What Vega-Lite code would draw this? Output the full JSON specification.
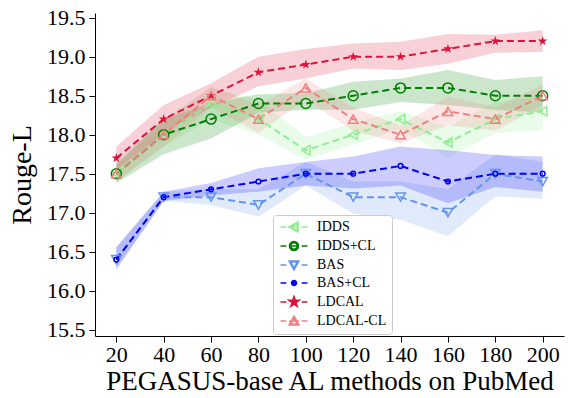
{
  "$schema": "https://vega.github.io/schema/vega-lite/v6.json",
  "width": 469,
  "height": 323,
  "autosize": {"type": "none"},
  "padding": {"left": 95, "top": 13, "right": 10, "bottom": 62},
  "background": "white",
  "config": {
    "view": {"stroke": null},
    "font": "Liberation Serif",
    "axis": {
      "grid": false,
      "domainColor": "black",
      "domainWidth": 1,
      "tickColor": "black",
      "tickSize": 6,
      "tickWidth": 1,
      "labelColor": "black",
      "titleColor": "black",
      "titleFontWeight": "normal",
      "labelFont": "Liberation Serif",
      "titleFont": "Liberation Serif",
      "labelFlush": false,
      "labelOverlap": false
    },
    "legend": {
      "labelFont": "Liberation Serif",
      "labelFontSize": 14,
      "labelColor": "black",
      "symbolSize": 81,
      "symbolStrokeWidth": 1.5,
      "symbolOffset": 9,
      "labelOffset": 16,
      "rowPadding": 3,
      "padding": 5
    }
  },
  "data": {"values": [
    {"x": 20, "method": "IDDS", "v": 17.5, "lo": 17.4, "hi": 17.65},
    {"x": 40, "method": "IDDS", "v": 18.0, "lo": 17.85, "hi": 18.2},
    {"x": 60, "method": "IDDS", "v": 18.4, "lo": 18.2, "hi": 18.6},
    {"x": 80, "method": "IDDS", "v": 18.2, "lo": 18.0, "hi": 18.45},
    {"x": 100, "method": "IDDS", "v": 17.8, "lo": 17.68, "hi": 17.97},
    {"x": 120, "method": "IDDS", "v": 18.0, "lo": 17.87, "hi": 18.15},
    {"x": 140, "method": "IDDS", "v": 18.2, "lo": 18.08, "hi": 18.3},
    {"x": 160, "method": "IDDS", "v": 17.9, "lo": 17.7, "hi": 18.1},
    {"x": 180, "method": "IDDS", "v": 18.2, "lo": 18.02, "hi": 18.42},
    {"x": 200, "method": "IDDS", "v": 18.3, "lo": 18.06, "hi": 18.49},
    {"x": 20, "method": "IDDS+CL", "v": 17.5, "lo": 17.38, "hi": 17.62},
    {"x": 40, "method": "IDDS+CL", "v": 18.0, "lo": 17.75, "hi": 18.2},
    {"x": 60, "method": "IDDS+CL", "v": 18.2, "lo": 17.95, "hi": 18.4},
    {"x": 80, "method": "IDDS+CL", "v": 18.4, "lo": 18.28, "hi": 18.52},
    {"x": 100, "method": "IDDS+CL", "v": 18.4, "lo": 18.32, "hi": 18.53},
    {"x": 120, "method": "IDDS+CL", "v": 18.5, "lo": 18.32, "hi": 18.68},
    {"x": 140, "method": "IDDS+CL", "v": 18.6, "lo": 18.42, "hi": 18.72},
    {"x": 160, "method": "IDDS+CL", "v": 18.6, "lo": 18.38, "hi": 18.83},
    {"x": 180, "method": "IDDS+CL", "v": 18.5, "lo": 18.32, "hi": 18.7},
    {"x": 200, "method": "IDDS+CL", "v": 18.5, "lo": 18.28, "hi": 18.75},
    {"x": 20, "method": "BAS", "v": 16.4, "lo": 16.3, "hi": 16.55},
    {"x": 40, "method": "BAS", "v": 17.2, "lo": 17.15, "hi": 17.27},
    {"x": 60, "method": "BAS", "v": 17.2, "lo": 17.1, "hi": 17.3},
    {"x": 80, "method": "BAS", "v": 17.1, "lo": 16.95, "hi": 17.3},
    {"x": 100, "method": "BAS", "v": 17.5, "lo": 17.35, "hi": 17.65},
    {"x": 120, "method": "BAS", "v": 17.2, "lo": 16.99, "hi": 17.4},
    {"x": 140, "method": "BAS", "v": 17.2, "lo": 16.91, "hi": 17.4},
    {"x": 160, "method": "BAS", "v": 17.0, "lo": 16.7, "hi": 17.3},
    {"x": 180, "method": "BAS", "v": 17.5, "lo": 17.21, "hi": 17.75},
    {"x": 200, "method": "BAS", "v": 17.4, "lo": 17.18, "hi": 17.65},
    {"x": 20, "method": "BAS+CL", "v": 16.4, "lo": 16.27, "hi": 16.56},
    {"x": 40, "method": "BAS+CL", "v": 17.2, "lo": 17.15, "hi": 17.27},
    {"x": 60, "method": "BAS+CL", "v": 17.3, "lo": 17.22, "hi": 17.38},
    {"x": 80, "method": "BAS+CL", "v": 17.4, "lo": 17.27, "hi": 17.57},
    {"x": 100, "method": "BAS+CL", "v": 17.5, "lo": 17.35, "hi": 17.65},
    {"x": 120, "method": "BAS+CL", "v": 17.5, "lo": 17.31, "hi": 17.72},
    {"x": 140, "method": "BAS+CL", "v": 17.6, "lo": 17.35, "hi": 17.85},
    {"x": 160, "method": "BAS+CL", "v": 17.4, "lo": 17.12, "hi": 17.8},
    {"x": 180, "method": "BAS+CL", "v": 17.5, "lo": 17.33, "hi": 17.74},
    {"x": 200, "method": "BAS+CL", "v": 17.5, "lo": 17.27, "hi": 17.72},
    {"x": 20, "method": "LDCAL", "v": 17.7, "lo": 17.55, "hi": 17.85},
    {"x": 40, "method": "LDCAL", "v": 18.2, "lo": 18.02, "hi": 18.38},
    {"x": 60, "method": "LDCAL", "v": 18.5, "lo": 18.35, "hi": 18.66},
    {"x": 80, "method": "LDCAL", "v": 18.8, "lo": 18.62, "hi": 19.0},
    {"x": 100, "method": "LDCAL", "v": 18.9, "lo": 18.72, "hi": 19.1},
    {"x": 120, "method": "LDCAL", "v": 19.0, "lo": 18.85, "hi": 19.17},
    {"x": 140, "method": "LDCAL", "v": 19.0, "lo": 18.83, "hi": 19.19},
    {"x": 160, "method": "LDCAL", "v": 19.1, "lo": 18.91, "hi": 19.29},
    {"x": 180, "method": "LDCAL", "v": 19.2, "lo": 19.05, "hi": 19.28},
    {"x": 200, "method": "LDCAL", "v": 19.2, "lo": 19.06, "hi": 19.34},
    {"x": 20, "method": "LDCAL-CL", "v": 17.5, "lo": 17.4, "hi": 17.6},
    {"x": 40, "method": "LDCAL-CL", "v": 18.0, "lo": 17.85, "hi": 18.15},
    {"x": 60, "method": "LDCAL-CL", "v": 18.5, "lo": 18.35, "hi": 18.62},
    {"x": 80, "method": "LDCAL-CL", "v": 18.2, "lo": 18.02, "hi": 18.38},
    {"x": 100, "method": "LDCAL-CL", "v": 18.6, "lo": 18.45, "hi": 18.72},
    {"x": 120, "method": "LDCAL-CL", "v": 18.2, "lo": 18.05, "hi": 18.35},
    {"x": 140, "method": "LDCAL-CL", "v": 18.0, "lo": 17.89, "hi": 18.12},
    {"x": 160, "method": "LDCAL-CL", "v": 18.3, "lo": 18.12, "hi": 18.49},
    {"x": 180, "method": "LDCAL-CL", "v": 18.2, "lo": 18.05, "hi": 18.35},
    {"x": 200, "method": "LDCAL-CL", "v": 18.5, "lo": 18.38, "hi": 18.64}
  ]},
  "encoding": {
    "x": {
      "field": "x", "type": "quantitative",
      "scale": {"domain": [11, 209], "nice": false, "zero": false},
      "axis": {
        "values": [20, 40, 60, 80, 100, 120, 140, 160, 180, 200],
        "title": "PEGASUS-base AL methods on PubMed",
        "labelFont": "Liberation Serif", "titleFont": "Liberation Serif",
        "labelFontSize": 22, "titleFontSize": 27,
        "labelPadding": 2, "titlePadding": 3
      }
    },
    "y": {
      "field": "v", "type": "quantitative",
      "scale": {"domain": [15.42, 19.56], "nice": false, "zero": false},
      "axis": {
        "values": [15.5, 16, 16.5, 17, 17.5, 18, 18.5, 19, 19.5],
        "format": ".1f",
        "title": "Rouge-L",
        "labelFont": "Liberation Serif", "titleFont": "Liberation Serif",
        "labelFontSize": 22, "titleFontSize": 28,
        "labelPadding": 4, "titlePadding": 10
      }
    },
    "color": {
      "field": "method", "type": "nominal",
      "scale": {
        "domain": ["IDDS", "IDDS+CL", "BAS", "BAS+CL", "LDCAL", "LDCAL-CL"],
        "range": ["#90ee90", "#008000", "#6495ed", "#0000ff", "#dc143c", "#f08080"]
      },
      "legend": null
    }
  },
  "layer": [
    {
      "transform": [{"filter": "datum.x == 20"}],
      "mark": {"type": "point", "filled": false, "strokeWidth": 1.5, "opacity": 0},
      "encoding": {
        "color": {
          "field": "method", "type": "nominal",
          "legend": {
            "title": null,
            "orient": "none", "legendX": 178, "legendY": 202,
            "padding": 5, "strokeColor": "#cccccc",
            "fillColor": "rgba(255,255,255,0.85)", "cornerRadius": 3,
            "labelFont": "Liberation Serif", "labelFontSize": 14, "labelColor": "black",
            "symbolSize": 81, "symbolStrokeWidth": 1.5, "symbolOpacity": 1,
            "symbolOffset": 9, "labelOffset": 16, "rowPadding": 3
          }
        },
        "shape": {
          "field": "method", "type": "nominal",
          "scale": {
            "domain": ["IDDS", "IDDS+CL", "BAS", "BAS+CL", "LDCAL", "LDCAL-CL"],
            "range": [
              "M-3,0H-1.7M-1.1,0H0.9M1.7,0H3M-1.1,0L0.9,-1.1L0.9,1.1ZM-0.767,0L0.733,0.825L0.733,-0.825Z",
              "M-3,0H-1.7M-1,0H1M1.7,0H3M1,0A1,1 0 1,1 -1,0A1,1 0 1,1 1,0ZM0.72,0A0.72,0.72 0 1,0 -0.72,0A0.72,0.72 0 1,0 0.72,0Z",
              "M-3,0H-1.7M-1.1,-0.9H1.1M1.7,0H3M0,1.1L-1.1,-0.9L1.1,-0.9ZM0,0.633L0.715,-0.667L-0.715,-0.667Z",
              "M-3,0H-1.7M-0.55,0H0.55M1.7,0H3M0.55,0A0.55,0.55 0 1,1 -0.55,0A0.55,0.55 0 1,1 0.55,0Z",
              "M-3,0H-1.7M1.7,0H3M0,-1.2L0.27,-0.37L1.14,-0.37L0.43,0.14L0.71,0.97L0,0.46L-0.71,0.97L-0.43,0.14L-1.14,-0.37L-0.27,-0.37Z",
              "M-3,0H-1.7M-1.1,0H1.1M1.7,0H3M0,-1.1L-1.1,0.9L1.1,0.9ZM0,-0.633L0.715,0.667L-0.715,0.667Z"
            ]
          },
          "legend": {
            "title": null,
            "orient": "none", "legendX": 178, "legendY": 202,
            "padding": 5, "strokeColor": "#cccccc",
            "fillColor": "rgba(255,255,255,0.85)", "cornerRadius": 3,
            "labelFont": "Liberation Serif", "labelFontSize": 14, "labelColor": "black",
            "symbolSize": 81, "symbolStrokeWidth": 1.5, "symbolOpacity": 1,
            "symbolOffset": 9, "labelOffset": 16, "rowPadding": 3
          }
        }
      }
    },
    {
      "mark": {"type": "area", "opacity": 0.2},
      "encoding": {
        "y": {
          "field": "lo", "type": "quantitative",
          "scale": {"domain": [15.42, 19.56], "nice": false, "zero": false},
          "axis": {
            "values": [15.5, 16, 16.5, 17, 17.5, 18, 18.5, 19, 19.5],
            "format": ".1f",
            "title": "Rouge-L",
            "labelFont": "Liberation Serif", "titleFont": "Liberation Serif",
            "labelFontSize": 22, "titleFontSize": 28,
            "labelPadding": 4, "titlePadding": 10
          }
        },
        "y2": {"field": "hi"}
      }
    },
    {
      "mark": {"type": "line", "strokeDash": [7, 4], "strokeWidth": 2}
    },
    {
      "transform": [{"filter": "datum.method == 'IDDS'"}],
      "mark": {"type": "point", "shape": "triangle-left", "size": 90, "filled": false, "strokeWidth": 1.5, "opacity": 1}
    },
    {
      "transform": [{"filter": "datum.method == 'IDDS+CL'"}],
      "mark": {"type": "point", "shape": "circle", "size": 100, "filled": false, "strokeWidth": 1.5, "opacity": 1}
    },
    {
      "transform": [{"filter": "datum.method == 'BAS'"}],
      "mark": {"type": "point", "shape": "triangle-down", "size": 90, "filled": false, "strokeWidth": 1.5, "opacity": 1}
    },
    {
      "transform": [{"filter": "datum.method == 'BAS+CL'"}],
      "mark": {"type": "point", "shape": "circle", "size": 22, "filled": false, "strokeWidth": 1.5, "opacity": 1}
    },
    {
      "transform": [{"filter": "datum.method == 'LDCAL'"}],
      "mark": {"type": "point", "shape": "M0,-1L0.223,-0.307L0.951,-0.309L0.361,0.117L0.588,0.809L0,0.38L-0.588,0.809L-0.361,0.117L-0.951,-0.309L-0.223,-0.307Z", "size": 100, "filled": true, "strokeWidth": 1, "opacity": 1}
    },
    {
      "transform": [{"filter": "datum.method == 'LDCAL-CL'"}],
      "mark": {"type": "point", "shape": "triangle-up", "size": 90, "filled": false, "strokeWidth": 1.5, "opacity": 1}
    }
  ]
}
